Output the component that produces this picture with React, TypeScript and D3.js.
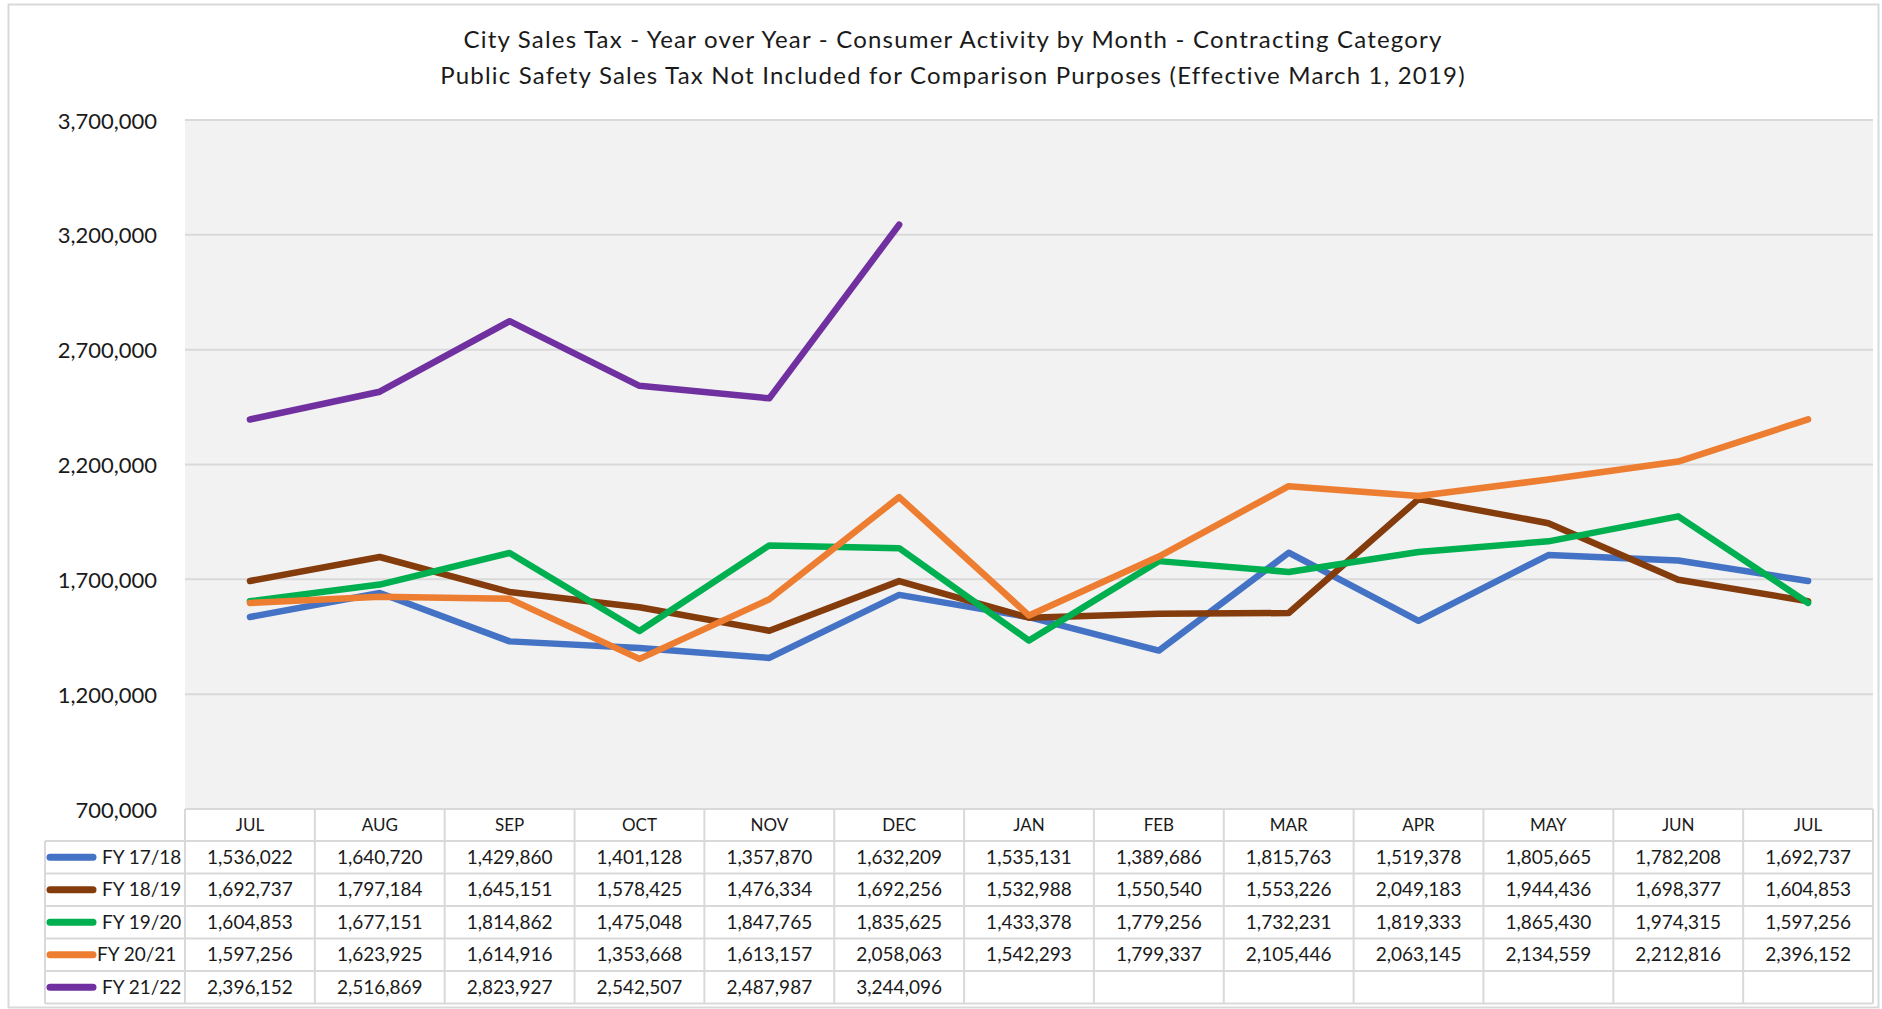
import React from "react";
import * as d3 from "d3";

const months = ["JUL", "AUG", "SEP", "OCT", "NOV", "DEC", "JAN", "FEB", "MAR", "APR", "MAY", "JUN", "JUL"];
const seriesNames = ["FY 17/18", "FY 18/19", "FY 19/20", "FY 20/21", "FY 21/22"];
const seriesColors = ["#4472C4", "#843C0C", "#00B050", "#ED7D31", "#7030A0"];
const fy1718 = [1536022, 1640720, 1429860, 1401128, 1357870, 1632209, 1535131, 1389686, 1815763, 1519378, 1805665, 1782208, 1692737];
const fy1819 = [1692737, 1797184, 1645151, 1578425, 1476334, 1692256, 1532988, 1550540, 1553226, 2049183, 1944436, 1698377, 1604853];
const fy1920 = [1604853, 1677151, 1814862, 1475048, 1847765, 1835625, 1433378, 1779256, 1732231, 1819333, 1865430, 1974315, 1597256];
const fy2021 = [1597256, 1623925, 1614916, 1353668, 1613157, 2058063, 1542293, 1799337, 2105446, 2063145, 2134559, 2212816, 2396152];
const fy2122 = [2396152, 2516869, 2823927, 2542507, 2487987, 3244096];
const yTicks = [700000, 1200000, 1700000, 2200000, 2700000, 3200000, 3700000];
const titleLines = [
  "City Sales Tax - Year over Year - Consumer Activity by Month - Contracting Category",
  "Public Safety Sales Tax Not Included for Comparison Purposes (Effective March 1, 2019)",
];

const allSeries = [fy1718, fy1819, fy1920, fy2021, fy2122];

const W = 1882;
const H = 1009;
const plotL = 185;
const plotR = 1873;
const plotT = 120;
const plotB = 809;
const legendL = 45;
const headerH = 32;
const rowH = 32.5;
const FONT = "Lato, 'Open Sans', sans-serif";
const fmt = d3.format(",");

export default function App() {
  const x = d3.scaleBand<number>().domain(d3.range(months.length)).range([plotL, plotR]).padding(0);
  const y = d3.scaleLinear().domain([700000, 3700000]).range([plotB, plotT]);
  const cx = (i: number) => (x(i) as number) + x.bandwidth() / 2;
  const line = d3
    .line<number>()
    .x((_, i) => cx(i))
    .y((d) => y(d));

  const tableTop = plotB;
  const rowsTop = tableTop + headerH;
  const tableBottom = rowsTop + rowH * seriesNames.length;
  const grid = "#D9D9D9";

  return (
    <svg
      width={W}
      height={H}
      style={{ position: "fixed", left: 0, top: 0, background: "#fff" }}
      fontFamily={FONT}
    >
      <rect x={8.5} y={4.5} width={1870} height={1003} fill="#fff" stroke={grid} strokeWidth={2} />
      {titleLines.map((t, i) => (
        <text
          key={i}
          x={953}
          y={38 + i * 36}
          textAnchor="middle"
          dominantBaseline="central"
          fontSize={24}
          letterSpacing={1.2}
          fill="#1a1a1a"
        >
          {t}
        </text>
      ))}
      <rect x={plotL} y={plotT} width={plotR - plotL} height={plotB - plotT} fill="#F2F2F2" />
      {yTicks.map((t) => (
        <g key={t}>
          {t !== 700000 && <line x1={plotL} x2={plotR} y1={y(t)} y2={y(t)} stroke={grid} strokeWidth={2} />}
          <text x={157} y={y(t)} textAnchor="end" dominantBaseline="central" fontSize={22} fill="#1a1a1a">
            {fmt(t)}
          </text>
        </g>
      ))}
      {allSeries.map((s, i) => (
        <path
          key={i}
          d={line(s) as string}
          fill="none"
          stroke={seriesColors[i]}
          strokeWidth={6.5}
          strokeLinejoin="round"
          strokeLinecap="round"
        />
      ))}
      {/* table */}
      <rect x={plotL} y={tableTop} width={plotR - plotL} height={tableBottom - tableTop} fill="#fff" />
      <rect x={legendL} y={rowsTop} width={plotL - legendL} height={tableBottom - rowsTop} fill="#fff" />
      <line x1={plotL} x2={plotR} y1={tableTop} y2={tableTop} stroke={grid} strokeWidth={2} />
      {d3.range(seriesNames.length + 1).map((r) => (
        <line key={r} x1={legendL} x2={plotR} y1={rowsTop + r * rowH} y2={rowsTop + r * rowH} stroke={grid} strokeWidth={2} />
      ))}
      <line x1={legendL} x2={legendL} y1={rowsTop} y2={tableBottom} stroke={grid} strokeWidth={2} />
      {d3.range(months.length + 1).map((c) => {
        const xx = c === months.length ? plotR : (x(c) as number);
        return <line key={c} x1={xx} x2={xx} y1={tableTop} y2={tableBottom} stroke={grid} strokeWidth={2} />;
      })}
      {months.map((m, i) => (
        <text key={i} x={cx(i)} y={tableTop + headerH / 2 - 1} textAnchor="middle" dominantBaseline="central" fontSize={17} fill="#1a1a1a">
          {m}
        </text>
      ))}
      {seriesNames.map((name, r) => {
        const cy = rowsTop + r * rowH + rowH / 2;
        return (
          <g key={name}>
            <line x1={50} x2={93} y1={cy} y2={cy} stroke={seriesColors[r]} strokeWidth={7} strokeLinecap="round" />
            <text x={r === 3 ? 97 : 102} y={cy - 1} dominantBaseline="central" fontSize={19} fill="#1a1a1a">
              {name}
            </text>
            {allSeries[r].map((v, i) => (
              <text key={i} x={cx(i)} y={cy - 1} textAnchor="middle" dominantBaseline="central" fontSize={19} fill="#1a1a1a">
                {fmt(v)}
              </text>
            ))}
          </g>
        );
      })}
    </svg>
  );
}
